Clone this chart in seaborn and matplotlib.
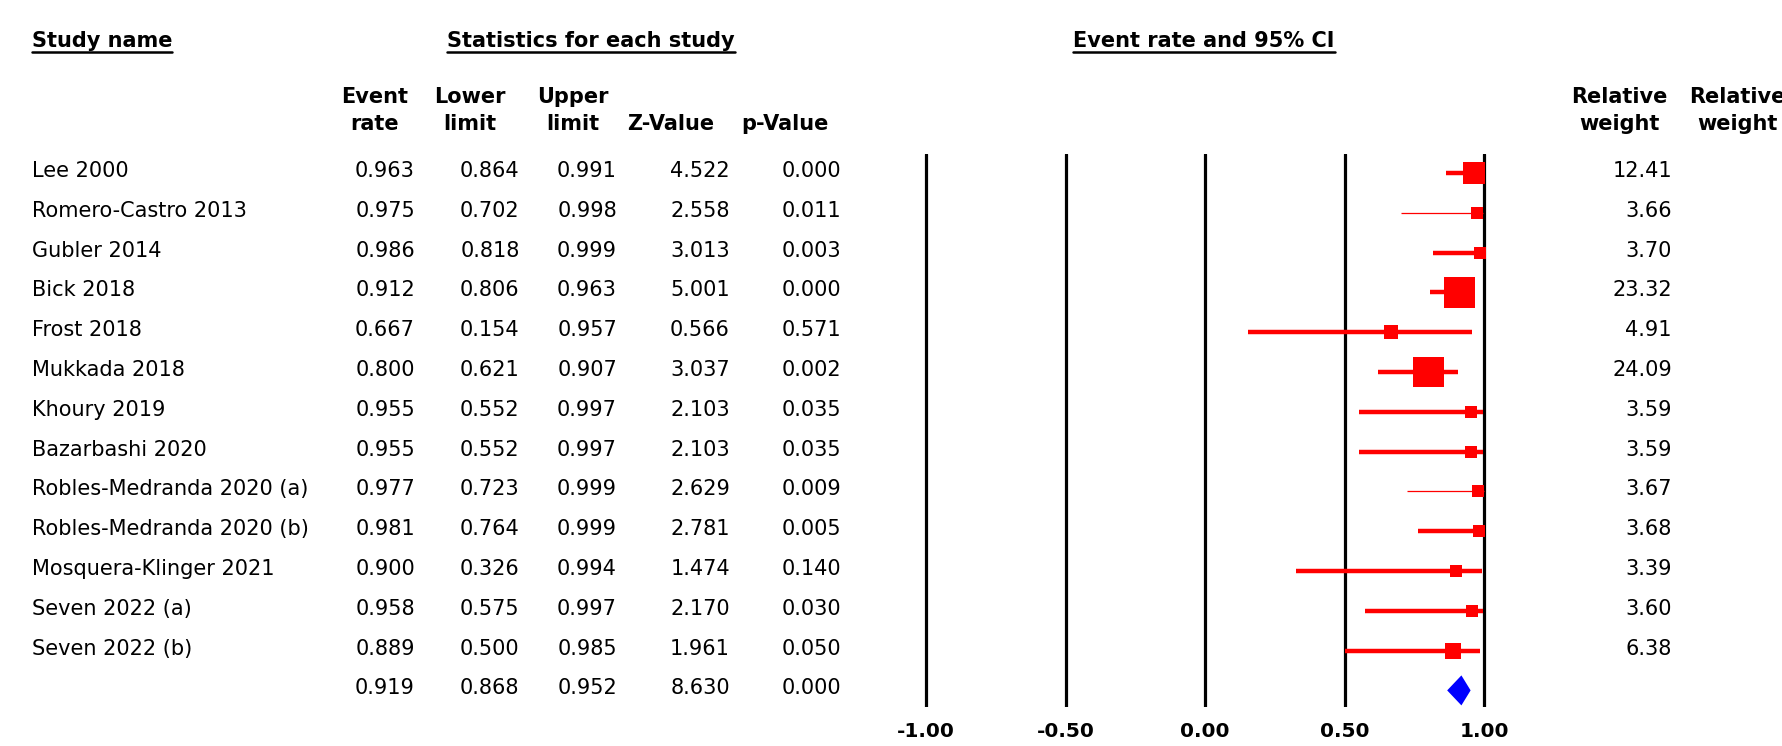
import numpy as np
import pandas as pd
import matplotlib
matplotlib.use("Agg")
import matplotlib.pyplot as plt
import seaborn as sns
from matplotlib.lines import Line2D
from matplotlib.transforms import blended_transform_factory

# ---------------------------------------------------------------
# data
# ---------------------------------------------------------------
studies = ["Lee 2000", "Romero-Castro 2013", "Gubler 2014", "Bick 2018", "Frost 2018",
           "Mukkada 2018", "Khoury 2019", "Bazarbashi 2020", "Robles-Medranda 2020 (a)",
           "Robles-Medranda 2020 (b)", "Mosquera-Klinger 2021", "Seven 2022 (a)",
           "Seven 2022 (b)"]
event_rate = [0.963, 0.975, 0.986, 0.912, 0.667, 0.800, 0.955, 0.955, 0.977, 0.981,
              0.900, 0.958, 0.889]
lower_limit = [0.864, 0.702, 0.818, 0.806, 0.154, 0.621, 0.552, 0.552, 0.723, 0.764,
               0.326, 0.575, 0.500]
upper_limit = [0.991, 0.998, 0.999, 0.963, 0.957, 0.907, 0.997, 0.997, 0.999, 0.999,
               0.994, 0.997, 0.985]
z_value = [4.522, 2.558, 3.013, 5.001, 0.566, 3.037, 2.103, 2.103, 2.629, 2.781,
           1.474, 2.170, 1.961]
p_value = [0.000, 0.011, 0.003, 0.000, 0.571, 0.002, 0.035, 0.035, 0.009, 0.005,
           0.140, 0.030, 0.050]
rel_weight = [12.41, 3.66, 3.70, 23.32, 4.91, 24.09, 3.59, 3.59, 3.67, 3.68,
              3.39, 3.60, 6.38]

pooled_rate = 0.919
pooled_lower = 0.868
pooled_upper = 0.952
pooled_z = 8.630
pooled_p = 0.000

x_ticks = [-1.00, -0.50, 0.00, 0.50, 1.00]

# studies drawn with a thin CI line in the original
thin_rows = ["Romero-Castro 2013", "Robles-Medranda 2020 (a)"]

# ---------------------------------------------------------------
# figure / layout (pixel based, 1783 x 746)
# ---------------------------------------------------------------
W, H = 1783, 746
sns.set_style("white")
plt.rcParams["font.family"] = ["DejaVu Sans"]
plt.rcParams["text.color"] = "black"
plt.rcParams["xtick.color"] = "black"
FS = 15

fig = plt.figure(figsize=(W / 100, H / 100), dpi=100)

row0_px, row_step = 173, 39.8        # centre of first row, row spacing
top_px, bot_px = 154, 707            # extent of the vertical reference lines
px_per_unit = 279
x_left_px = 926 - 0.1 * px_per_unit

ax = fig.add_axes([x_left_px / W, (H - bot_px) / H,
                   2.2 * px_per_unit / W, (bot_px - top_px) / H])

df = pd.DataFrame({"study": studies, "rate": event_rate, "lower": lower_limit,
                   "upper": upper_limit, "weight": rel_weight})
df["row"] = np.arange(len(df))

# vertical reference lines
for t in x_ticks:
    ax.axvline(t, color="black", lw=2.3, zorder=1)

# confidence intervals
lws = [0.9 if s in thin_rows else 3.2 for s in df["study"]]
ax.hlines(df["row"], df["lower"], df["upper"], colors="red", linewidths=lws, zorder=2)

# squares, area proportional to the relative weight
sizes = {w: 20.6 * w for w in rel_weight}
sns.scatterplot(data=df, x="rate", y="row", size="weight", sizes=sizes, marker="s",
                color="red", linewidth=0, legend=False, ax=ax, zorder=3)

# pooled diamond
n = len(df)
half_h = 15 / row_step
ax.fill([pooled_lower, pooled_rate, pooled_upper, pooled_rate],
        [n, n - half_h, n, n + half_h], color="blue", lw=0, zorder=3)

ax.set_xlim(-1.1, 1.1)
ax.set_ylim((bot_px - row0_px) / row_step, (top_px - row0_px) / row_step)
ax.set_xlabel("")
ax.set_ylabel("")
ax.set_yticks([])
ax.set_xticks(x_ticks)
ax.set_xticklabels([f"{t:.2f}" for t in x_ticks], fontweight="bold", fontsize=FS - 0.5)
ax.tick_params(axis="x", length=0, pad=11)
for sp in ax.spines.values():
    sp.set_visible(False)
ax.patch.set_alpha(0)

# ---------------------------------------------------------------
# table text
# ---------------------------------------------------------------
tr = blended_transform_factory(fig.transFigure, ax.transData)

def row_text(x_px, row, s, ha="right"):
    ax.text(x_px / W, row - 0.05, s, transform=tr, ha=ha, va="center", fontsize=FS)

col_right = [415, 519.5, 617, 730, 841]
for i in range(n):
    row_text(32, i, studies[i], ha="left")
    vals = [event_rate[i], lower_limit[i], upper_limit[i], z_value[i], p_value[i]]
    for xr, v in zip(col_right, vals):
        row_text(xr, i, f"{v:.3f}")
    row_text(1672, i, f"{rel_weight[i]:.2f}")

for xr, v in zip(col_right, [pooled_rate, pooled_lower, pooled_upper, pooled_z, pooled_p]):
    row_text(xr, n, f"{v:.3f}")

# headers
def header(x_px, y_px, s, ha="center"):
    return fig.text(x_px / W, 1 - y_px / H, s, ha=ha, va="center",
                    fontsize=FS, fontweight="bold")

underlined = [header(32, 41, "Study name", ha="left"),
              header(591, 41, "Statistics for each study"),
              header(1204, 41, "Event rate and 95% CI")]

line1, line2 = 97, 124
header(375, line1, "Event")
header(375, line2, "rate")
header(470, line1, "Lower")
header(470, line2, "limit")
header(573, line1, "Upper")
header(573, line2, "limit")
header(671, line2, "Z-Value")
header(785, line2, "p-Value")
for xc in [1619, 1737]:
    header(xc, line1, "Relative")
    header(xc, line2, "weight")

# underline the three group titles
fig.canvas.draw()
renderer = fig.canvas.get_renderer()
for t in underlined:
    bb = t.get_window_extent(renderer)
    y = (bb.y0 - 1) / H
    fig.add_artist(Line2D([bb.x0 / W, bb.x1 / W], [y, y], color="black", lw=1.8,
                          transform=fig.transFigure))

fig.savefig("out.png", dpi=100)
